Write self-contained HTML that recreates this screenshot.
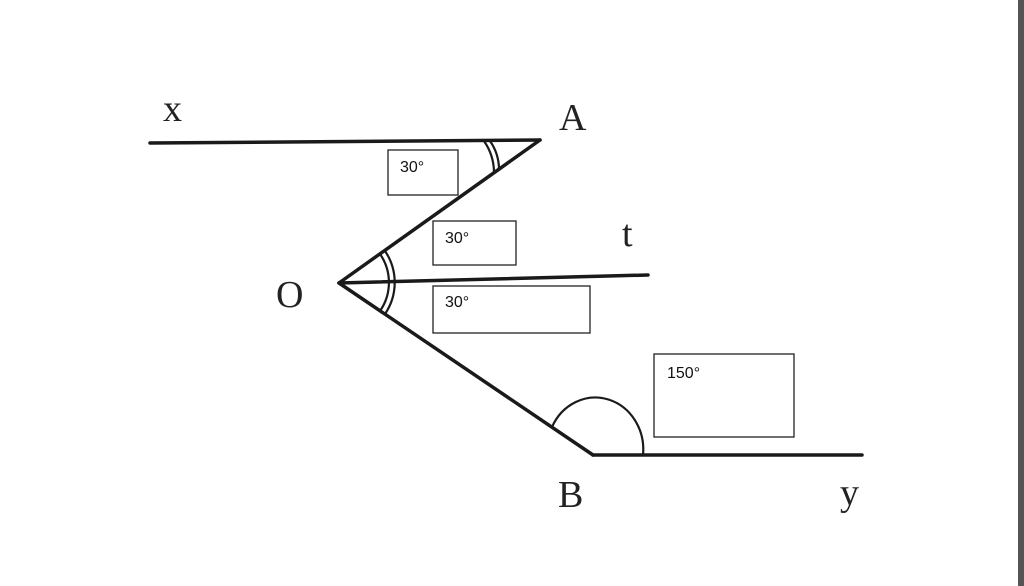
<!DOCTYPE html>
<html><head><style>
body{margin:0;background:#fff;}
svg{display:block}
</style></head><body>
<svg width="1024" height="586" xmlns="http://www.w3.org/2000/svg">
<rect width="1024" height="586" fill="#fff"/>
<rect x="1018" y="0" width="6" height="586" fill="#555"/>
<g stroke="#1a1a1a" stroke-width="3.5" fill="none" stroke-linecap="round">
<line x1="150" y1="143" x2="540" y2="140"/>
<line x1="540" y1="140" x2="339" y2="283"/>
<line x1="339" y1="283" x2="648" y2="275"/>
<line x1="339" y1="283" x2="593" y2="455"/>
<line x1="593" y1="455" x2="862" y2="455"/>
</g>
<g stroke="#1a1a1a" stroke-width="2.2" fill="none">
<path d="M490 141 A50 50 0 0 1 499 169"/>
<path d="M484 141 A56 56 0 0 1 494 172"/>
<path d="M380 254 A50 50 0 0 1 380 311"/>
<path d="M385 251 A56 56 0 0 1 385 314"/>
<path d="M552 427 A48 52 0 0 1 643 455"/>
</g>
<g font-family="Liberation Serif, serif" font-size="38" fill="#222">
<text x="163" y="121">x</text>
<text x="559" y="130">A</text>
<text x="622" y="246">t</text>
<text x="276" y="307">O</text>
<text x="558" y="507">B</text>
<text x="840" y="505">y</text>
</g>
<g fill="#fff" stroke="#222" stroke-width="1.3">
<rect x="388" y="150" width="70" height="45"/>
<rect x="433" y="221" width="83" height="44"/>
<rect x="433" y="286" width="157" height="47"/>
<rect x="654" y="354" width="140" height="83"/>
</g>
<g font-family="Liberation Sans, sans-serif" font-size="16" fill="#111">
<text x="400" y="172">30°</text>
<text x="445" y="243">30°</text>
<text x="445" y="307">30°</text>
<text x="667" y="378">150°</text>
</g>
</svg>
</body></html>
